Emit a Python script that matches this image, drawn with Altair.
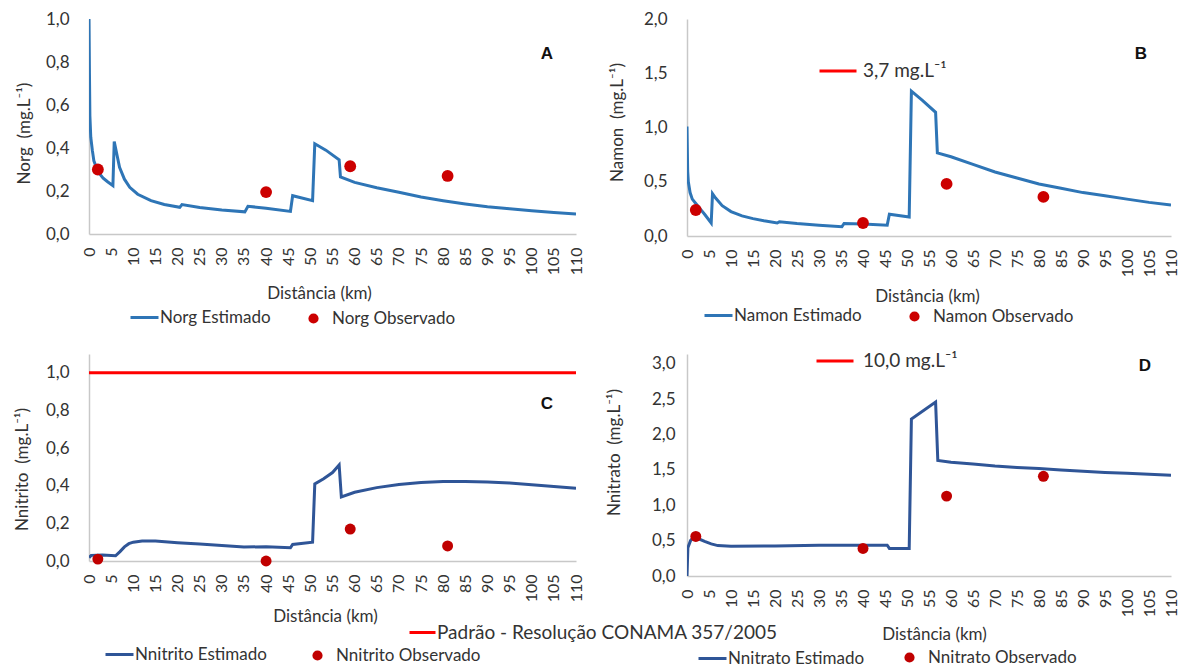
import altair as alt
import pandas as pd

FONT = "Lato"
TXT = "#333333"
AXIS_GREY = "#c8c8c8"

# ---------------- data ----------------
x_ticks = [0, 5, 10, 15, 20, 25, 30, 35, 40, 45, 50, 55, 60, 65, 70, 75, 80, 85, 90, 95, 100, 105, 110]

# Panel A - Norg
norg_km = [0, 0.1, 0.2, 0.4, 0.75, 1.1, 1.65, 2.2, 3.2, 4.2, 5.4, 5.7, 6.3, 6.9, 8, 9.2, 11, 14, 17,
           20.5, 21, 25, 30, 35.2, 35.9, 40, 45.5, 46, 50.5, 51, 53.5, 56.5, 56.8, 60, 65, 70, 75, 80,
           85, 90, 95, 100, 105, 110]
norg_est = [1.0, 0.75, 0.55, 0.45, 0.39, 0.34, 0.31, 0.285, 0.26, 0.243, 0.225, 0.43, 0.37, 0.31, 0.255,
            0.217, 0.185, 0.155, 0.137, 0.124, 0.137, 0.123, 0.112, 0.103, 0.129, 0.12, 0.105, 0.178,
            0.155, 0.42, 0.39, 0.345, 0.265, 0.24, 0.215, 0.194, 0.172, 0.155, 0.14, 0.127, 0.117,
            0.108, 0.1, 0.093]

# Panel B - Namon
namon_km = [0, 0.15, 0.3, 0.7, 1.2, 2, 3, 4, 5.5, 5.8, 6.5, 8, 10, 12.5, 15, 17.5, 20.5, 21, 25, 30,
            35.2, 35.7, 40, 45.5, 46, 50.5, 51, 53.5, 56.5, 56.9, 60, 65, 70, 75, 80, 85, 90, 95, 100,
            105, 110]
namon_est = [1.01, 0.6, 0.5, 0.4, 0.34, 0.3, 0.25, 0.2, 0.12, 0.39, 0.35, 0.28, 0.225, 0.185, 0.16,
             0.14, 0.12, 0.132, 0.115, 0.1, 0.085, 0.115, 0.11, 0.1, 0.2, 0.175, 1.335, 1.25, 1.14,
             0.766, 0.73, 0.66, 0.59, 0.535, 0.48, 0.44, 0.40, 0.37, 0.34, 0.31, 0.285]

# Panel C - Nnitrito
nnitrito_km = [0, 0.5, 3, 6, 7, 8, 9, 10, 12, 15, 20, 25, 30, 35, 40, 45.5, 46, 50.5, 51, 53, 55, 56.5,
               57, 60, 65, 70, 75, 80, 85, 90, 95, 100, 105, 110]
nnitrito_est = [0.018, 0.03, 0.032, 0.028, 0.05, 0.075, 0.092, 0.1, 0.106, 0.106, 0.097, 0.09, 0.083,
                0.074, 0.076, 0.07, 0.088, 0.1, 0.41, 0.437, 0.47, 0.51, 0.34, 0.365, 0.39, 0.407,
                0.417, 0.422, 0.423, 0.42, 0.415, 0.405, 0.396, 0.387]

# Panel D - Nnitrato
nnitrato_km = [0, 0.2, 0.8, 1.5, 2.5, 4, 5.5, 7, 10, 20, 30, 40, 45.5, 46, 50.5, 51, 56.5, 57, 60, 65,
               70, 75, 80, 85, 90, 95, 100, 105, 110]
nnitrato_est = [0.0, 0.4, 0.5, 0.55, 0.53, 0.49, 0.455, 0.43, 0.42, 0.425, 0.435, 0.435, 0.435, 0.39,
                0.39, 2.22, 2.46, 1.635, 1.61, 1.585, 1.556, 1.535, 1.52, 1.5, 1.48, 1.465, 1.455,
                1.44, 1.425]

obs_km = [2, 40, 59, 81]
norg_obs = [0.30, 0.195, 0.315, 0.27]
namon_obs = [0.24, 0.12, 0.48, 0.36]
nnitrito_obs = [0.01, 0.0, 0.17, 0.08]
nnitrato_obs = [0.56, 0.39, 1.13, 1.41]

limit_b = [3.7]
limit_c = [1.0]
limit_d = [10.0]

yt_a = [0.0, 0.2, 0.4, 0.6, 0.8, 1.0]
yt_b = [0.0, 0.5, 1.0, 1.5, 2.0]
yt_c = [0.0, 0.2, 0.4, 0.6, 0.8, 1.0]
yt_d = [0.0, 0.5, 1.0, 1.5, 2.0, 2.5, 3.0]

SUP = "mg.L\u207b\u00b9"


def panel(km, est, obs, est_name, obs_name, ymax, yticks, ytitle, letter, line_color,
          dot_color, dot_size, W, H, g, limit=None, limit_name=None):
    df_line = pd.DataFrame({"km": km, "v": est, "serie": est_name})
    df_pts = pd.DataFrame({"km": obs_km, "v": obs, "serie": obs_name})

    xenc = alt.X("km:Q", scale=alt.Scale(domain=[0, 110], nice=False, zero=False),
                 axis=alt.Axis(values=x_ticks, labelAngle=270, labelFont=FONT, labelFontSize=16,
                               labelColor=TXT, labelPadding=13, ticks=False, tickSize=0,
                               domainColor=AXIS_GREY, domainWidth=1.5, grid=False,
                               labelOverlap=False, labelFlush=False,
                               title="Distância (km)", titleFont=FONT, titleFontSize=17,
                               titleFontWeight="normal", titleColor=TXT,
                               titleX=g["xtx"], titleY=g["xty"], titleBaseline="middle",
                               titleAlign="center"))
    yenc = alt.Y("v:Q", scale=alt.Scale(domain=[0, ymax], nice=False, zero=True),
                 axis=alt.Axis(values=yticks, labelExpr="replace(format(datum.value, '.1f'), '.', ',')",
                               labelFont=FONT, labelFontSize=17, labelColor=TXT,
                               labelPadding=g.get("ylp", 20), ticks=False, tickSize=0,
                               domainColor=AXIS_GREY, domainWidth=1.5, grid=False,
                               labelOverlap=False, labelFlush=False,
                               title=ytitle, titleFont=FONT, titleFontSize=17,
                               titleFontWeight="normal", titleColor=TXT,
                               titleX=g["ytx"], titleY=g["yty"], titleBaseline="middle",
                               titleAlign="center"))

    line = alt.Chart(df_line).mark_line(strokeWidth=3, clip=True).encode(
        x=xenc, y=yenc,
        color=alt.Color("serie:N", title=None,
                        scale=alt.Scale(domain=[est_name], range=[line_color]),
                        legend=alt.Legend(orient="none", legendX=g["l1x"], legendY=g["l1y"],
                                          symbolType="stroke", symbolStrokeWidth=3, symbolSize=784,
                                          labelFont=FONT, labelFontSize=17, labelColor=TXT,
                                          labelOffset=0, padding=0, labelLimit=500)))
    pts = alt.Chart(df_pts).mark_circle(size=dot_size, opacity=1, strokeWidth=0).encode(
        x=xenc, y=yenc,
        fill=alt.Fill("serie:N", title=None,
                      scale=alt.Scale(domain=[obs_name], range=[dot_color]),
                      legend=alt.Legend(orient="none", legendX=g["l2x"], legendY=g["l2y"],
                                        symbolType="circle", symbolSize=104, symbolStrokeWidth=0,
                                        labelFont=FONT, labelFontSize=17, labelColor=TXT,
                                        labelOffset=10, padding=0, labelLimit=500)))
    layers = [line, pts]
    if limit is not None:
        df_lim = pd.DataFrame({"v": limit, "serie": limit_name})
        rule = alt.Chart(df_lim).mark_rule(strokeWidth=3, clip=True).encode(
            y=yenc,
            stroke=alt.Stroke("serie:N", title=None,
                              scale=alt.Scale(domain=[limit_name], range=["#ff0000"]),
                              legend=alt.Legend(orient="none", legendX=g["l3x"], legendY=g["l3y"],
                                                symbolType="stroke", symbolStrokeWidth=3,
                                                symbolSize=g["l3s"], labelFont=FONT,
                                                labelFontSize=19, labelColor=TXT,
                                                labelOffset=g["l3o"], padding=0, labelLimit=600)))
        layers = [rule] + layers
    return alt.layer(*layers).properties(
        width=W, height=H,
        title=alt.TitleParams(letter, anchor="end", frame="group", orient="top",
                              font="Liberation Sans", fontSize=17, fontWeight="bold",
                              color="#111111", baseline="middle", offset=0,
                              dx=g["tdx"], dy=g["tdy"])
    ).resolve_scale(color="independent", fill="independent", stroke="independent")


gA = dict(xtx=230, xty=59, ytx=-65, yty=114, l1x=40, l1y=283, l2x=216, l2y=291, tdx=-23, tdy=61)
gB = dict(xtx=240, xty=60, ytx=-70, yty=103, l1x=16, l1y=281, l2x=219, l2y=289, tdx=-24, tdy=61,
          l3x=131, l3y=32, l3s=1369, l3o=5)
gC = dict(xtx=236, xty=55, ytx=-67, yty=115, l1x=15, l1y=285, l2x=220, l2y=293, tdx=-23, tdy=67,
          l3x=319, l3y=264, l3s=676, l3o=0)
gD = dict(xtx=247, xty=58, ytx=-73, yty=98, l1x=10, l1y=289, l2x=214, l2y=295, tdx=-20, tdy=42,
          l3x=128, l3y=-13, l3s=1369, l3o=8, ylp=12)

pA = panel(norg_km, norg_est, norg_obs, "Norg Estimado", "Norg Observado", 1.0, yt_a,
           "Norg\u00a0\u00a0(" + SUP + ")", "A", "#2e75b6", "#cc0000", 140, 487, 215, gA)
pB = panel(namon_km, namon_est, namon_obs, "Namon Estimado", "Namon Observado", 2.0, yt_b,
           "Namon\u00a0\u00a0(" + SUP + ")", "B", "#2e75b6", "#cc0000", 140, 484, 217, gB,
           limit=limit_b, limit_name="3,7 " + SUP)
pC = panel(nnitrito_km, nnitrito_est, nnitrito_obs, "Nnitrito Estimado", "Nnitrito Observado", 1.1, yt_c,
           "Nnitrito\u00a0\u00a0(" + SUP + ")", "C", "#2f5597", "#c00000", 120, 487, 207, gC,
           limit=limit_c, limit_name="Padrão - Resolução CONAMA 357/2005")
pD = panel(nnitrato_km, nnitrato_est, nnitrato_obs, "Nnitrato Estimado", "Nnitrato Observado", 3.14, yt_d,
           "Nnitrato\u00a0\u00a0(" + SUP + ")", "D", "#2f5597", "#c00000", 120, 484, 222, gD,
           limit=limit_d, limit_name="10,0 " + SUP)

chart = alt.concat(pA, pB, pC, pD, columns=2, spacing={"row": 118, "column": 111},
                   bounds="flush").resolve_scale(
    color="independent", fill="independent", stroke="independent"
).properties(
    padding={"left": 12, "top": 10, "right": 4, "bottom": 0},
    background="white",
).configure_view(stroke=None)

chart.save("out.html", embed_options={"renderer": "svg", "actions": False})
